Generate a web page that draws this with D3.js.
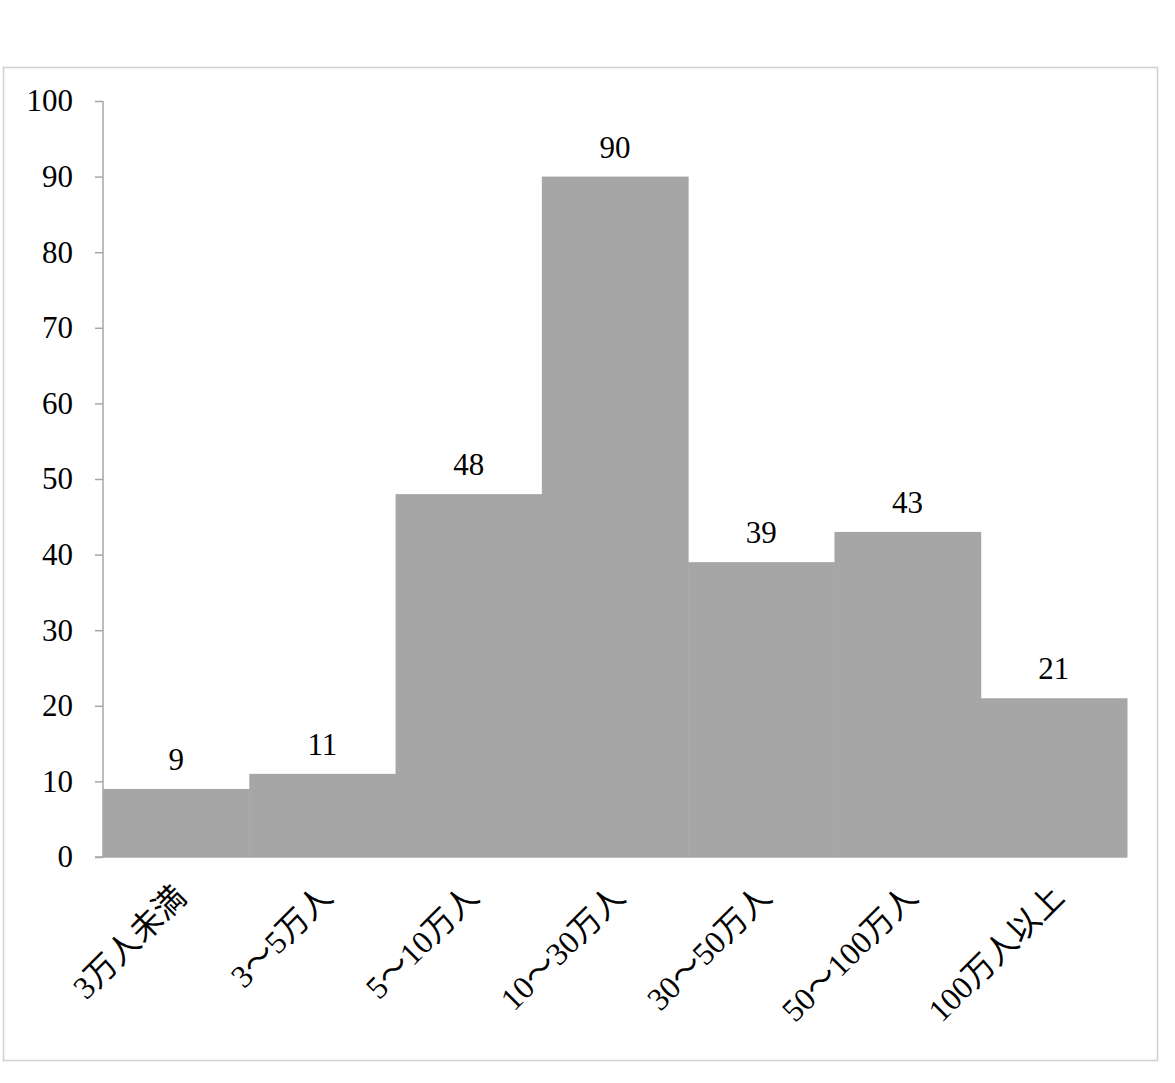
<!DOCTYPE html>
<html>
<head>
<meta charset="utf-8">
<script src="https://cdn.jsdelivr.net/npm/d3@7"></script>
<style>
  html, body { margin: 0; padding: 0; background: #fff; }
  text { font-family: "Liberation Serif", "Noto Sans CJK JP", serif; fill: #000; }
</style>
</head>
<body>
<svg id="chart"></svg>
<script>
// categories and values
const categories = ["3万人未満", "3～5万人", "5～10万人", "10～30万人", "30～50万人", "50～100万人", "100万人以上"];
const values = [9, 11, 48, 90, 39, 43, 21];
const yTicks = [0, 10, 20, 30, 40, 50, 60, 70, 80, 90, 100];

document.addEventListener('DOMContentLoaded', function() {
  const W = 1175, H = 1083;
  const margin = { top: 101, right: 48, bottom: 226, left: 103 },
        width = W - margin.left - margin.right,
        height = H - margin.top - margin.bottom;

  const root = d3.select("#chart").attr("width", W).attr("height", H);

  // outer frame
  root.append("rect")
      .attr("x", 3.5).attr("y", 67.5)
      .attr("width", 1154).attr("height", 993)
      .attr("fill", "none").attr("stroke", "#d0d0d0").attr("stroke-width", 1.5);

  const svg = root.append("g")
      .attr("transform", "translate(" + margin.left + "," + margin.top + ")");

  const x = d3.scaleBand().domain(categories).range([0, width]).padding(0);
  const y = d3.scaleLinear().domain([0, 100]).range([height, 0]);

  // bars
  svg.selectAll(".bar")
      .data(values)
      .enter().append("rect")
      .attr("class", "bar")
      .attr("x", (d, i) => x(categories[i]))
      .attr("width", x.bandwidth() + 0.5)
      .attr("y", d => y(d))
      .attr("height", d => height - y(d))
      .attr("fill", "#a6a6a6");

  // value labels
  svg.selectAll(".val")
      .data(values)
      .enter().append("text")
      .attr("class", "val")
      .attr("x", (d, i) => x(categories[i]) + x.bandwidth() / 2)
      .attr("y", d => y(d) - 19)
      .attr("text-anchor", "middle")
      .style("font-size", "31px")
      .text(d => d);

  // y axis
  const yAxis = svg.append("g")
      .call(d3.axisLeft(y).tickValues(yTicks).tickSize(8).tickPadding(22));
  yAxis.selectAll("path, line").attr("stroke", "#a6a6a6").attr("stroke-width", 1.5);
  yAxis.select(".domain").attr("d", "M0," + height + "V0");
  yAxis.selectAll("text").style("font-size", "31px").attr("fill", "#000");

  // x axis
  const xAxis = svg.append("g")
      .attr("transform", "translate(0," + height + ")")
      .call(d3.axisBottom(x).tickSize(0).tickPadding(0));
  xAxis.select(".domain").attr("stroke", "#a6a6a6").attr("stroke-width", 1.5)
      .attr("d", "M-8,0H" + width);
  xAxis.selectAll("text")
      .style("font-size", "32px")
      .attr("text-anchor", "end")
      .attr("dy", 0)
      .attr("transform", "translate(12,42) rotate(-45)");
});
</script>
</body>
</html>
